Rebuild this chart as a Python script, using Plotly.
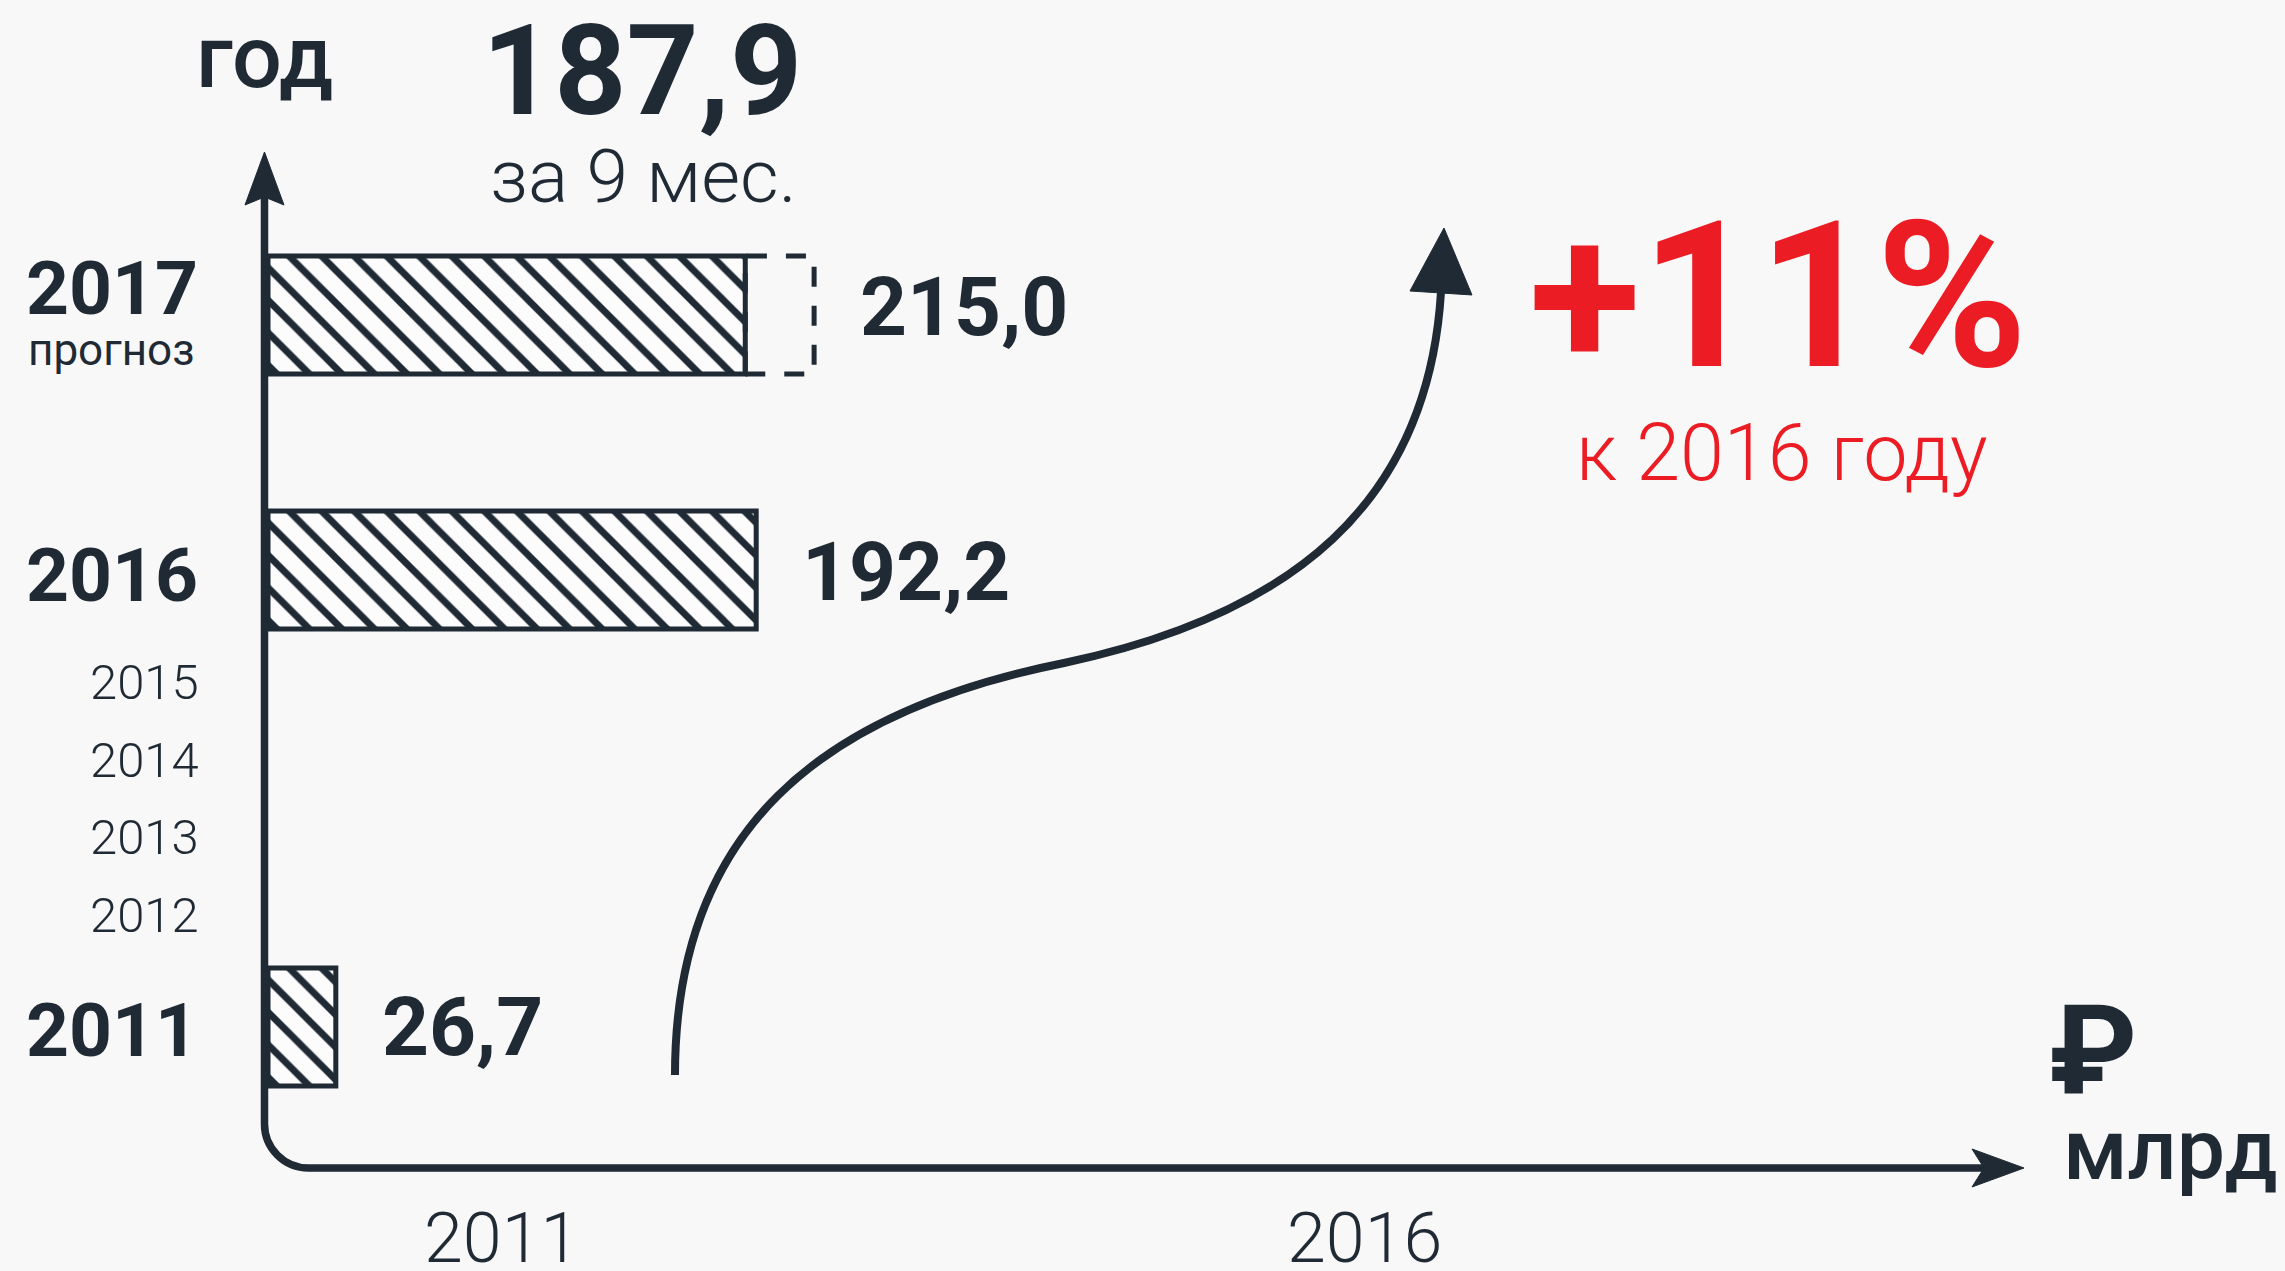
import plotly.graph_objects as go

# ---------------- data ----------------
bar_years = ["2011", "2016", "2017"]
bar_values = [26.7, 192.2, 187.9]          # 2017 = за 9 мес.
forecast_year = "2017"
forecast_value = 215.0                     # 2017 прогноз
other_years = ["2012", "2013", "2014", "2015"]
bottom_labels = ["2011", "2016"]
y_title = "год"
nine_month_note = "за 9 мес."
forecast_note = "прогноз"
growth_label = "+11%"
growth_note = "к 2016 году"
unit_labels = ["₽", "млрд"]

# ---------------- layout / style ----------------
W, H = 2285, 1271
DARK = "#1f2a35"
RED = "#ec1c24"
BG = "#f8f8f8"
FONT = "Roboto, 'Noto Sans', 'DejaVu Sans', sans-serif"

X0_PX = 268            # pixel of value 0
PX_PER_UNIT = 2.54
X_MAX = 700
ROW_SPAN_PX = 160
BAR_PX = 118
ROW_CENTER_PX = {"2017": 315, "2016": 570, "2011": 1027}
AXIS_OF = {"2011": "y", "2016": "y3", "2017": "y4"}
SMALL_BLOCK_PX = (644, 954)
LABEL_SHIFT = {"2017": 27, "2016": -5, "2011": -3}
VALUE_SHIFT = {"2017": 8, "2016": -2, "2011": 0}


def fx(px):
    return px / W


def fy(py):
    return 1 - py / H


def path(cmds):
    out = []
    for c in cmds:
        if isinstance(c, str):
            out.append(c)
        else:
            out.append(f"{fx(c[0]):.5f},{fy(c[1]):.5f}")
    return " ".join(out)


fig = go.Figure()

bw = BAR_PX / ROW_SPAN_PX
for yr, val in zip(bar_years, bar_values):
    fig.add_trace(go.Bar(
        x=[val], y=[yr], orientation="h",
        xaxis="x", yaxis=AXIS_OF[yr], width=bw,
        marker=dict(
            color="rgba(255,255,255,0.5)",
            line=dict(color=DARK, width=5),
            pattern=dict(shape="\\", fgcolor=DARK, bgcolor="rgba(255,255,255,0.55)",
                         size=23, solidity=0.3, fillmode="replace"),
        ),
        hoverinfo="skip", showlegend=False,
    ))

# register the intermediate years on their own category axis
fig.add_trace(go.Scatter(
    x=[0] * len(other_years), y=other_years, xaxis="x", yaxis="y2",
    mode="markers", marker=dict(opacity=0, size=1),
    hoverinfo="skip", showlegend=False,
))

layout_axes = {}
for yr, ax in AXIS_OF.items():
    c = ROW_CENTER_PX[yr]
    key = "yaxis" if ax == "y" else "yaxis" + ax[1:]
    layout_axes[key] = dict(
        domain=[fy(c + ROW_SPAN_PX / 2), fy(c - ROW_SPAN_PX / 2)],
        type="category", range=[-0.5, 0.5], visible=False,
        anchor="x", fixedrange=True,
    )
layout_axes["yaxis2"] = dict(
    domain=[fy(SMALL_BLOCK_PX[1]), fy(SMALL_BLOCK_PX[0])],
    type="category", categoryorder="array", categoryarray=other_years,
    range=[-0.5, len(other_years) - 0.5], visible=False, anchor="x", fixedrange=True,
)

fig.update_layout(
    width=W, height=H,
    margin=dict(l=0, r=0, t=0, b=0),
    paper_bgcolor=BG, plot_bgcolor="rgba(0,0,0,0)",
    showlegend=False,
    xaxis=dict(domain=[fx(X0_PX), fx(X0_PX + X_MAX * PX_PER_UNIT)],
               range=[0, X_MAX], visible=False, fixedrange=True),
    **layout_axes,
)

ann = []


def txt(text, x, y, size, weight=400, color=DARK, xanchor="center", yanchor="middle",
        xref="paper", yref="paper", xshift=0, yshift=0):
    ann.append(dict(text=text, x=x, y=y, xref=xref, yref=yref, showarrow=False,
                    xanchor=xanchor, yanchor=yanchor, xshift=xshift, yshift=yshift,
                    font=dict(family=FONT, size=size, color=color, weight=weight)))


# year labels on the vertical axis (category index 0 on each bar's own axis)
for yr in bar_years:
    txt(yr, fx(200), 0, 75, 700, xanchor="right", yref=AXIS_OF[yr], yshift=LABEL_SHIFT[yr])
txt(forecast_note, fx(196), 0, 44, 400, xanchor="right",
    yref=AXIS_OF[forecast_year], yshift=-35)
for i, yr in enumerate(other_years):
    txt(yr, fx(201), i, 49, 300, xanchor="right", yref="y2")

# value labels
for yr, val in zip(bar_years, bar_values):
    v = forecast_value if yr == forecast_year else val
    txt(f"{v:.1f}".replace(".", ","), v, 0, 82, 700, xanchor="left",
        xref="x", yref=AXIS_OF[yr], xshift=44, yshift=VALUE_SHIFT[yr])

# header texts
txt(y_title, fx(264), fy(57), 88, 500)
nine = bar_values[bar_years.index(forecast_year)]
txt(f"{nine:.1f}".replace(".", ","), fx(642), fy(71), 126, 700)
txt(nine_month_note, fx(644), fy(176), 75, 300)
txt(growth_label, fx(1778), fy(296), 205, 700, color=RED)
txt(growth_note, fx(1782), fy(453), 79, 300, color=RED)
txt(unit_labels[0], fx(2093), fy(1050), 125, 700)
txt(unit_labels[1], fx(2170), fy(1149), 86, 500)
txt(bottom_labels[0], fx(501), fy(1238), 70, 300)
txt(bottom_labels[1], fx(1364), fy(1238), 70, 300)

fig.update_layout(annotations=ann)

shapes = []
# axes with rounded corner
shapes.append(dict(type="path", xref="paper", yref="paper",
                   path=path(["M", (264.5, 197), "L", (264.5, 1124), "C", (264.5, 1148.3),
                              (284.2, 1168), (308.5, 1168), "L", (1985, 1168)]),
                   line=dict(color=DARK, width=7.5), fillcolor="rgba(0,0,0,0)"))
shapes.append(dict(type="path", xref="paper", yref="paper",
                   path=path(["M", (264.5, 152), "L", (284, 205), "L", (264.5, 197),
                              "L", (245, 205), "Z"]),
                   line=dict(color=DARK, width=1), fillcolor=DARK))
shapes.append(dict(type="path", xref="paper", yref="paper",
                   path=path(["M", (2024, 1168), "L", (1972, 1149), "L", (1984, 1168),
                              "L", (1972, 1187), "Z"]),
                   line=dict(color=DARK, width=1), fillcolor=DARK))
# growth curve
shapes.append(dict(type="path", xref="paper", yref="paper",
                   path=path(["M", (675, 1075), "C", (675, 830), (820, 712), (1064, 663),
                              "C", (1290, 615), (1428, 505), (1441, 292)]),
                   line=dict(color=DARK, width=8), fillcolor="rgba(0,0,0,0)"))
shapes.append(dict(type="path", xref="paper", yref="paper",
                   path=path(["M", (1444, 228), "L", (1472, 295), "L", (1410, 291), "Z"]),
                   line=dict(color=DARK, width=1), fillcolor=DARK))
# forecast (dashed) extension of the 2017 bar
fax = AXIS_OF[forecast_year]
shapes.append(dict(type="rect", xref="x", yref=fax,
                   x0=nine, x1=forecast_value, y0=-bw / 2, y1=bw / 2,
                   line=dict(color=DARK, width=5, dash="20px,19px"),
                   fillcolor="rgba(0,0,0,0)"))
fig.update_layout(shapes=shapes)

fig.write_html("out.html", config={"displayModeBar": False},
               post_script="document.body.style.margin='0';document.body.style.overflow='hidden';")
